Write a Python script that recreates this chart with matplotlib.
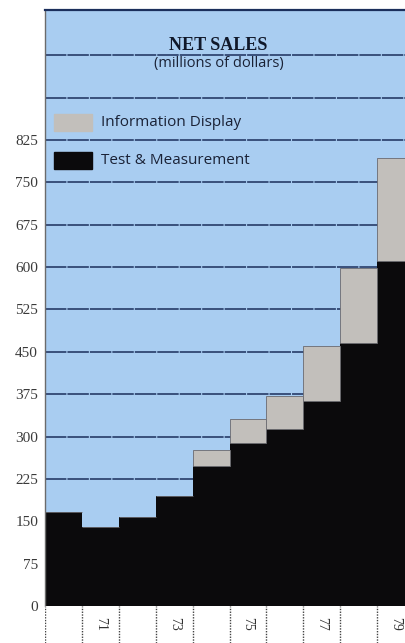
import matplotlib.pyplot as plt
import numpy as np

# net sales by segment, millions of dollars
years = ["70", "71", "72", "73", "74", "75", "76", "77", "78", "79"]
test_measurement = [166, 139, 158, 194, 248, 289, 313, 362, 465, 611]
info_display = [0, 0, 0, 0, 28, 42, 58, 98, 133, 182]
y_ticks = [0, 75, 150, 225, 300, 375, 450, 525, 600, 675, 750, 825]
grid_levels = [75 * k for k in range(3, 14)]

SKY = "#a9cdf1"
GREY = "#c2bfbb"
BLACK = "#0b0a0c"
NAVY = "#1b2f5c"

fig = plt.figure(figsize=(4.06, 6.43), dpi=100)
W, H = 406, 643
left, bottom, top = 45 / W, 37 / H, 10 / H
ax = fig.add_axes([left, bottom, 1 - left, 1 - bottom - top])
ax.set_facecolor(SKY)

x = np.arange(len(years))
ax.set_xlim(-0.5, 9.28)
ax.set_ylim(0, 1055)

for g in grid_levels:
    ax.axhline(g, color=NAVY, lw=1.1, ls=(0, (14, 0.7)), zorder=1)

ax.bar(x, test_measurement, width=1.0, color=BLACK, zorder=2, linewidth=0)
ax.bar(x, info_display, bottom=test_measurement, width=1.0, color=GREY,
       zorder=2, edgecolor="#6a6a70", linewidth=0.6)

ax.set_yticks(y_ticks)
ax.set_yticklabels([str(v) for v in y_ticks], family="Liberation Serif",
                   fontsize=11, color="#3a3a3a")
ax.tick_params(axis="y", length=0, pad=5)
ax.set_xticks([])

for side in ["right", "bottom"]:
    ax.spines[side].set_visible(False)
ax.spines["top"].set_color(NAVY)
ax.spines["top"].set_linewidth(1.6)
ax.spines["left"].set_color("#6b6b6b")
ax.spines["left"].set_linewidth(1.0)
ax.spines["left"].set_linestyle((0, (1, 1)))

# title block
ax.text(4.2, 993, "NET SALES", ha="center", va="center",
        family="Liberation Serif", fontweight="bold", fontsize=13, color="#10182a")
ax.text(4.22, 960, "(millions of dollars)", ha="center", va="center",
        family="Open Sans", fontsize=10.5, color="#1a2236")

# legend swatches
for yv, col, lab in [(856, GREY, "Information Display"),
                     (789, BLACK, "Test & Measurement")]:
    ax.add_patch(plt.Rectangle((-0.26, yv - 15), 1.03, 30, color=col, zorder=3))
    ax.text(1.03, yv, lab, ha="left", va="center", family="Open Sans",
            fontsize=11, color="#1a2236", zorder=3)

# year strip below the baseline
strip = fig.add_axes([left, 0, 1 - left, bottom], sharex=ax)
strip.set_facecolor("white")
strip.set_ylim(0, 1)
for b in np.arange(-0.5, 10, 1.0):
    strip.axvline(b, color="#444444", lw=1.0, ls=(0, (1, 1)))
for i, yr in enumerate(years):
    if i % 2 == 1:
        strip.text(x[i], 0.52, yr, rotation=-90, ha="center", va="center",
                   family="Liberation Serif", fontsize=10, color="#333333")
strip.set_xticks([])
strip.set_yticks([])
for s in strip.spines.values():
    s.set_visible(False)

fig.savefig("out.png", dpi=100)
